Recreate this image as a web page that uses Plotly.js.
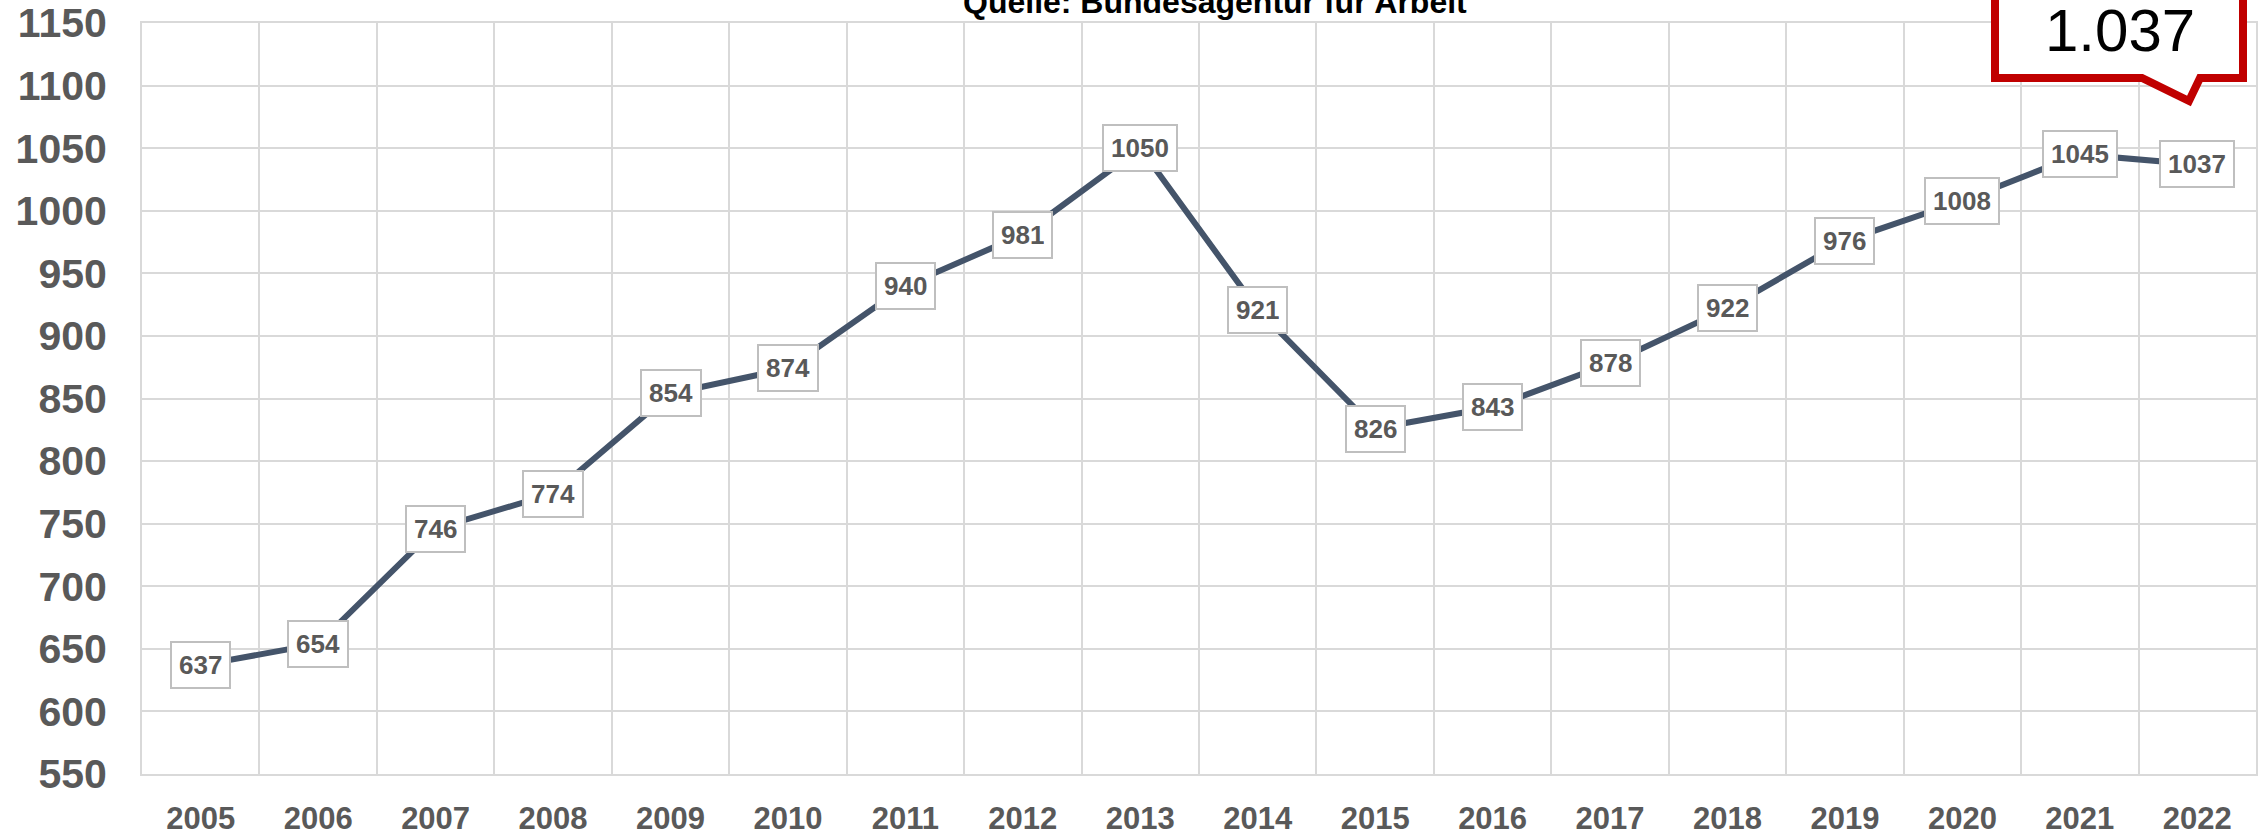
<!DOCTYPE html>
<html>
<head>
<meta charset="utf-8">
<script src="https://cdn.plot.ly/plotly-3.0.1.min.js"></script>
<style>
html, body { margin: 0; padding: 0; background: #ffffff; }
#chart { width: 2265px; height: 839px; }
</style>
</head>
<body>
<div id="chart"></div>
<script>
// ---- data ----
const years = ["2005","2006","2007","2008","2009","2010","2011","2012","2013","2014","2015","2016","2017","2018","2019","2020","2021","2022"];
const values = [637, 654, 746, 774, 854, 874, 940, 981, 1050, 921, 826, 843, 878, 922, 976, 1008, 1045, 1037];
const yTicks = [550, 600, 650, 700, 750, 800, 850, 900, 950, 1000, 1050, 1100, 1150];
const sourceText = "Quelle: Bundesagentur für Arbeit";
const calloutText = "1.037";

// ---- layout geometry (pixels) ----
const W = 2265, H = 839;
const M = {l: 142, r: 9, t: 23, b: 65};
const plotW = W - M.l - M.r, plotH = H - M.t - M.b;
const px = p => (p - M.l) / plotW;
const py = p => (H - M.b - p) / plotH;

const trace = {
  type: 'scatter',
  mode: 'lines',
  x: years,
  y: values,
  line: {color: '#44546a', width: 6},
  hoverinfo: 'x+y'
};

const labelAnnotations = years.map((yr, i) => ({
  x: i, y: values[i], xref: 'x', yref: 'y',
  text: String(values[i]),
  showarrow: false,
  xanchor: 'center', yanchor: 'middle',
  font: {family: 'Liberation Sans, Arial, sans-serif', size: 26, color: '#595959', weight: 'bold'},
  bgcolor: '#ffffff',
  bordercolor: '#bfbfbf',
  borderwidth: 2,
  borderpad: 7,
  height: 30
}));

// callout bubble
const cl = 1995, cr = 2243, ct = -20, cb = 78;
const calloutPath =
  `M ${px(cl)} ${py(ct)} L ${px(cr)} ${py(ct)} L ${px(cr)} ${py(cb)} ` +
  `L ${px(2200)} ${py(cb)} L ${px(2189)} ${py(101)} L ${px(2142)} ${py(cb)} ` +
  `L ${px(cl)} ${py(cb)} Z`;

const layout = {
  width: W, height: H,
  margin: M,
  paper_bgcolor: '#ffffff',
  plot_bgcolor: '#ffffff',
  showlegend: false,
  xaxis: {
    type: 'category',
    range: [-0.5, years.length - 0.5],
    tickson: 'boundaries',
    showgrid: true, gridcolor: '#d9d9d9', gridwidth: 2,
    showline: true, mirror: true, linecolor: '#d9d9d9', linewidth: 2,
    ticks: '',
    ticklabelstandoff: 16,
    tickfont: {family: 'Liberation Sans, Arial, sans-serif', size: 31, color: '#595959', weight: 'bold'},
    zeroline: false,
    fixedrange: true
  },
  yaxis: {
    range: [550, 1150],
    tickvals: yTicks,
    ticktext: yTicks.map(String),
    showgrid: true, gridcolor: '#d9d9d9', gridwidth: 2,
    showline: true, mirror: true, linecolor: '#d9d9d9', linewidth: 2,
    ticks: '',
    ticklabelstandoff: 25,
    tickfont: {family: 'Liberation Sans, Arial, sans-serif', size: 41, color: '#595959', weight: 'bold'},
    zeroline: false,
    fixedrange: true
  },
  shapes: [{
    type: 'path', xref: 'paper', yref: 'paper',
    path: calloutPath,
    fillcolor: '#ffffff',
    line: {color: '#c00000', width: 8},
    layer: 'above'
  }],
  annotations: labelAnnotations.concat([
    {
      xref: 'paper', yref: 'paper', x: px(1215), y: py(2),
      text: sourceText, showarrow: false,
      xanchor: 'center', yanchor: 'middle',
      font: {family: 'Liberation Sans, Arial, sans-serif', size: 32, color: '#000000', weight: 'bold'}
    },
    {
      xref: 'paper', yref: 'paper', x: px(2120), y: py(31),
      text: calloutText, showarrow: false,
      xanchor: 'center', yanchor: 'middle',
      font: {family: 'Liberation Sans, Arial, sans-serif', size: 60, color: '#000000'}
    }
  ])
};

Plotly.newPlot('chart', [trace], layout, {displayModeBar: false, staticPlot: true});
</script>
</body>
</html>
